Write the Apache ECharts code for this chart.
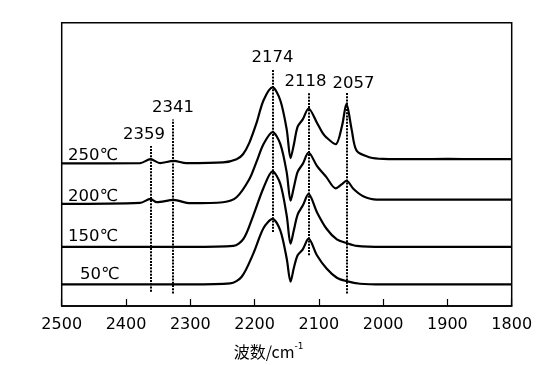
<!DOCTYPE html>
<html><head><meta charset="utf-8">
<script src="https://cdn.jsdelivr.net/npm/echarts@6/dist/echarts.min.js"></script>
<style>html,body{margin:0;padding:0;background:#fff}#c{width:558px;height:365px}</style>
</head><body><div id="c"></div>
<script>
// Wavenumbers (cm-1) and intensities (arbitrary units, offset stacked)
const wn250 = [2500,2378,2362,2347,2326,2306,2249,2228,2218,2208,2197,2186,2172,2160,2150,2144,2139,2133,2125,2116,2103,2095,2088,2074,2064,2057,2049,2041,2020,2000,1950,1900,1850,1800];
const v250  = [143.4,143.7,147.7,143.7,146.0,143.7,144.4,147.7,152.7,164.4,184.0,207.0,220.0,207.0,177.7,148.7,162.0,180.4,187.7,198.7,184.4,175.0,169.4,162.7,181.0,203.4,177.7,156.0,149.4,148.0,147.7,148.0,147.7,147.7];
const wn200 = [2500,2378,2362,2352,2326,2300,2249,2228,2208,2197,2186,2172,2160,2150,2144,2139,2133,2125,2116,2103,2088,2074,2064,2057,2046,2031,2010,1950,1900,1800];
const v200  = [102.7,103.7,107.7,104.4,106.7,103.4,104.4,109.4,127.7,145.0,163.0,175.0,163.0,134.4,106.0,119.0,135.0,143.0,154.4,141.0,129.4,118.4,122.7,126.0,117.7,110.4,107.0,107.0,107.0,107.0];
const wn150 = [2500,2400,2300,2233,2217,2202,2186,2172,2160,2150,2144,2139,2133,2125,2116,2103,2088,2072,2057,2041,2000,1900,1800];
const v150  = [59.4,59.4,59.4,60.4,67.7,91.0,119.0,135.4,123.0,91.0,62.7,76.0,92.0,101.0,112.7,94.4,77.7,67.0,63.4,60.4,59.4,59.4,59.4];
const wn50  = [2500,2400,2300,2238,2220,2202,2186,2172,2160,2150,2144,2139,2133,2125,2116,2103,2088,2072,2057,2036,2000,1900,1800];
const v50   = [21.7,21.7,21.7,22.7,29.4,52.7,78.5,87.7,76.0,47.7,24.4,38.0,51.0,57.0,67.7,51.0,37.7,28.4,25.0,22.4,21.7,21.7,21.7];
const seriesNames = ['250℃','200℃','150℃','50℃'];
// peak markers: label, drawn position, top & bottom of dotted line
const peakLabels = ['2359','2341','2174','2118','2057'];
const peakPos    = [2361,2327,2172,2116,2057];
const peakTop    = [161,187.7,237.7,214.4,214.4];
const peakBottom = [14.4,12.7,74.4,51,12.7];

const chart = echarts.init(document.getElementById('c'));
const FONT = '"DejaVu Sans", sans-serif';
function mk(wn, v){ return wn.map((w,i)=>[w,v[i]]); }
const data = [mk(wn250,v250), mk(wn200,v200), mk(wn150,v150), mk(wn50,v50)];
const series = data.map((d,i)=>({
  name: seriesNames[i], type:'line', data:d, smooth:0.3, symbol:'none',
  lineStyle:{color:'#000', width:2.2}, silent:true
}));
const peakLabelOffset = [[-7,0],[0,0],[0,0],[-3,0],[7,2]];
series.push({
  type:'line', data:[], silent:true,
  markLine:{
    symbol:'none', silent:true, animation:false,
    lineStyle:{color:'#000', type:[2,1.2], width:2},
    label:{show:true, position:'end', formatter:p=>p.name, fontFamily:FONT, fontSize:16.5, color:'#000', distance:3},
    data: peakLabels.map((l,i)=>[
      {coord:[peakPos[i],peakBottom[i]], name:l, label:{offset:peakLabelOffset[i]}},
      {coord:[peakPos[i],peakTop[i]]}])
  }
});
const labelPos = [[68,156],[68,197],[68,237],[80,275]];
chart.setOption({
  animation:false,
  grid:{left:61.7, right:46.3, top:22.7, bottom:57.3, show:true, borderColor:'#000', borderWidth:1.5, backgroundColor:'transparent'},
  xAxis:{type:'value', min:1800, max:2500, interval:100, inverse:true,
    axisLine:{show:true, lineStyle:{color:'#000', width:1.5}},
    axisTick:{show:true, inside:true, length:7, lineStyle:{color:'#000', width:1.2}},
    splitLine:{show:false},
    axisLabel:{color:'#000', fontFamily:FONT, fontSize:16, margin:11, formatter:v=>String(v)},
    name:'{a|波数/cm}{b|-1}', nameLocation:'middle', nameGap:36,
    nameTextStyle:{padding:[0,36,0,0], rich:{
      a:{fontFamily:'"Noto Sans CJK SC", sans-serif', fontSize:16, color:'#000', lineHeight:20},
      b:{fontFamily:FONT, fontSize:9, color:'#000', verticalAlign:'top', lineHeight:20, padding:[0,0,8,0]}
    }}
  },
  yAxis:{type:'value', min:0, max:285, show:false},
  series: series,
  graphic: seriesNames.map((n,i)=>({type:'text', x:labelPos[i][0], y:labelPos[i][1],
    style:{text:n, font:'16.5px '+FONT, fill:'#000', verticalAlign:'middle'}}))
});
</script></body></html>
